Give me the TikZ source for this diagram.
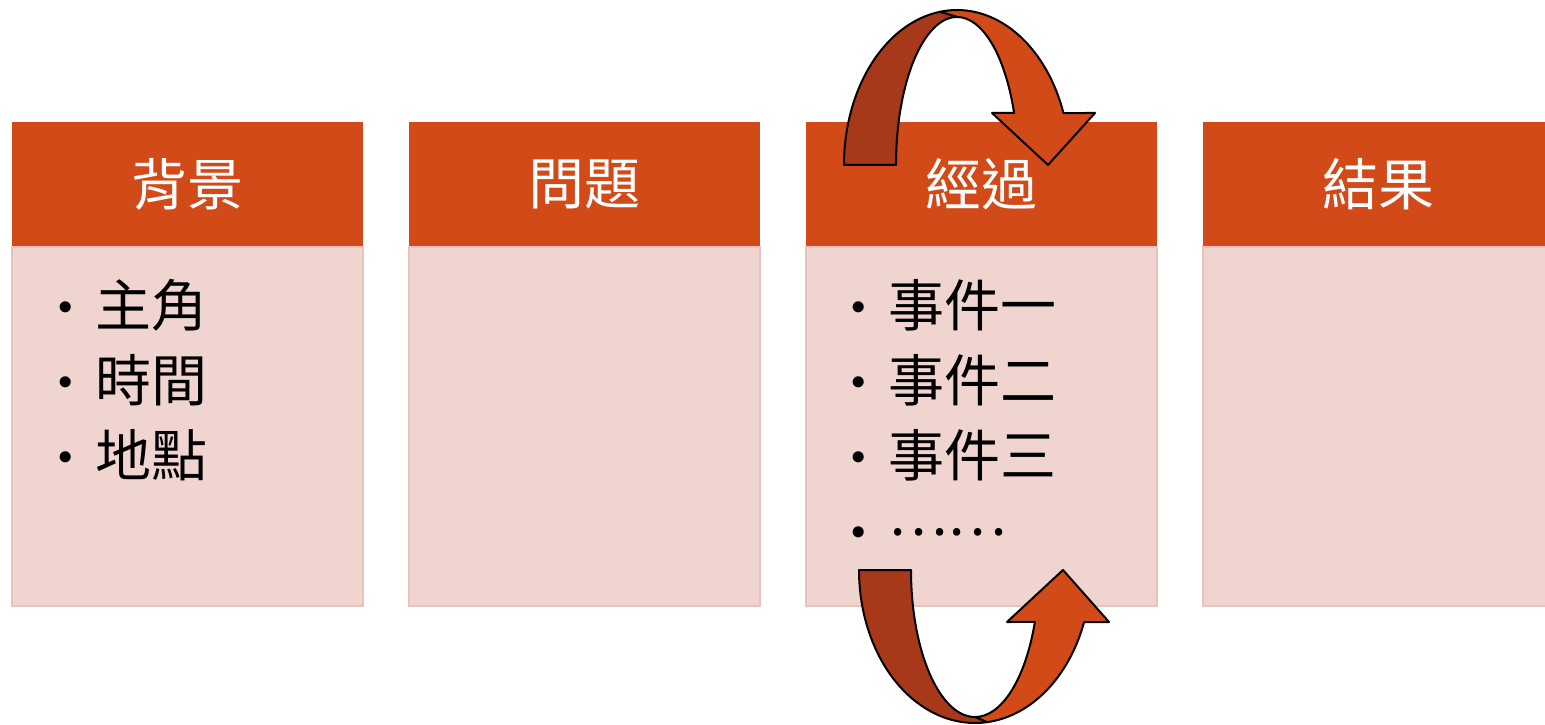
\documentclass[tikz,border=0pt]{standalone}
\usepackage{fontspec}
\setmainfont{Noto Sans CJK TC}
\usetikzlibrary{positioning, calc}
\definecolor{hdr}{HTML}{D24A18}
\definecolor{rib}{HTML}{A8381A}
\definecolor{pane}{HTML}{F0D4CF}
\definecolor{paneline}{HTML}{E8C3BD}
\newcommand{\bul}{\makebox[18.5pt][l]{\raisebox{6pt}{\fontsize{14}{14}\selectfont$\bullet$}}}

\begin{document}
\begin{tikzpicture}[x=0.5pt, y=0.5pt,
	head/.style={fill=hdr, text=white, minimum width=175.5pt, minimum height=62.5pt,
		inner sep=0pt, outer sep=0pt, font=\fontsize{28}{30}\selectfont},
	pane/.style={fill=pane, draw=paneline, line width=1pt, minimum width=175.5pt,
		minimum height=179.5pt, inner sep=0pt, outer sep=0pt},
	item/.style={anchor=base west, inner sep=0pt, font=\fontsize{28}{30}\selectfont},
	ribbon/.style={draw=black, line width=1pt, line join=round}]
	\useasboundingbox (0,0) rectangle (1545,724);
	
	\node [head] (head1) at (187.5,539.5) {背景};
	\node [head, right=23pt of head1] (head2) {問題};
	\node [head, right=23pt of head2] (head3) {經過};
	\node [head, right=23pt of head3] (head4) {結果};
	
	\node [pane, below=0pt of head1] (pane1) {};
	\node [pane, below=0pt of head2] (pane2) {};
	\node [pane, below=0pt of head3] (pane3) {};
	\node [pane, below=0pt of head4] (pane4) {};
	
	\foreach \t [count=\i] in {主角, 時間, 地點}
	\node [item] (bg\i) at (58,473-75*\i) {\bul\t};
	\foreach \t [count=\i] in {事件一, 事件二, 事件三, \raisebox{8pt}{……}}
	\node [item] (ev\i) at (851,473-75*\i) {\bul\t};
	
	% loop arrow over the top
	\coordinate (ctop) at (957,559);
	\filldraw [ribbon, fill=hdr] ($(ctop)+(98.7:113 and 155)$)
	arc [start angle=98.7, end angle=19.6, x radius=56.5pt, y radius=77.5pt]
	-- (1095,611) -- (1048,559) -- (992,611)
	-- ($(ctop)+(20.6:61 and 148)$)
	arc [start angle=20.6, end angle=90, x radius=30.5pt, y radius=74pt]
	-- cycle;
	\filldraw [ribbon, fill=rib] ($(ctop)+(180:113 and 155)$)
	arc [start angle=180, end angle=98.7, x radius=56.5pt, y radius=77.5pt]
	-- ($(ctop)+(90:61 and 148)$)
	arc [start angle=90, end angle=180, x radius=30.5pt, y radius=74pt]
	-- cycle;
	
	% loop arrow underneath
	\coordinate (cbot) at (975,154);
	\filldraw [ribbon, fill=hdr] ($(cbot)+(275.9:116 and 153)$)
	arc [start angle=275.9, end angle=340.1, x radius=58pt, y radius=76.5pt]
	-- (1109,102) -- (1063,154) -- (1007,102)
	-- ($(cbot)+(339.3:64 and 147)$)
	arc [start angle=339.3, end angle=270, x radius=32pt, y radius=73.5pt]
	-- cycle;
	\filldraw [ribbon, fill=rib] ($(cbot)+(180:116 and 153)$)
	arc [start angle=180, end angle=275.9, x radius=58pt, y radius=76.5pt]
	-- ($(cbot)+(270:64 and 147)$)
	arc [start angle=270, end angle=180, x radius=32pt, y radius=73.5pt]
	-- cycle;
\end{tikzpicture}
\end{document}
